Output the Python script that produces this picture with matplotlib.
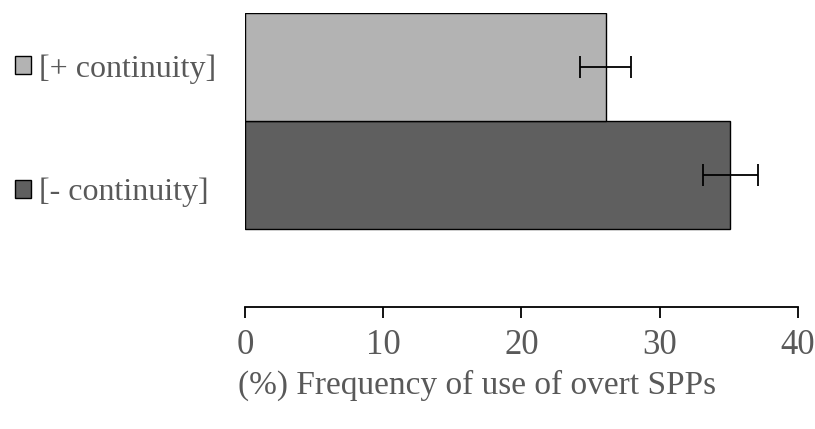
import matplotlib
matplotlib.use("Agg")
import matplotlib.pyplot as plt

# Datos
grupos = ["[- continuity]", "[+ continuity]"]
valores = [35.1, 26.1]
errores = [2.0, 1.85]
colores = ["#5f5f5f", "#b3b3b3"]
ticks_x = [0, 10, 20, 30, 40]

plt.rcParams["font.family"] = ["Liberation Serif", "DejaVu Serif"]
gris_texto = "#595959"

fig = plt.figure(figsize=(8.15, 4.29), dpi=100)
ax = fig.add_axes([0.3006, 0.2844, 0.6785, 0.686])

barras = ax.barh(range(len(grupos)), valores, height=1.0, color=colores,
                 edgecolor="black", linewidth=1.0,
                 xerr=errores, error_kw=dict(ecolor="black", elinewidth=1.3,
                                              capsize=8, capthick=1.3))

ax.set_xlim(0, 40)
ax.set_ylim(-1.225, 1.5)
ax.set_xticks(ticks_x)
ax.set_yticks([])
for lado in ["top", "right", "left"]:
    ax.spines[lado].set_visible(False)
ax.spines["bottom"].set_linewidth(1.3)
ax.tick_params(axis="x", direction="out", length=8, width=1.3, pad=8,
               labelsize=25, labelcolor=gris_texto)
ax.set_xlabel("(%) Frequency of use of overt SPPs", fontsize=24,
              color=gris_texto)
# el titulo del eje esta algo desplazado a la izquierda
ax.xaxis.set_label_coords(0.42, -0.212)

# etiquetas tipo leyenda a la izquierda
leyenda = fig.legend([barras[1], barras[0]], [grupos[1], grupos[0]],
                     loc="upper left", bbox_to_anchor=(0.018, 0.874),
                     frameon=False, fontsize=23, labelcolor=gris_texto,
                     handlelength=0.5, handleheight=0.5, handletextpad=0.25,
                     labelspacing=2.95, borderpad=0, borderaxespad=0)

fig.savefig("out.png", dpi=100)
